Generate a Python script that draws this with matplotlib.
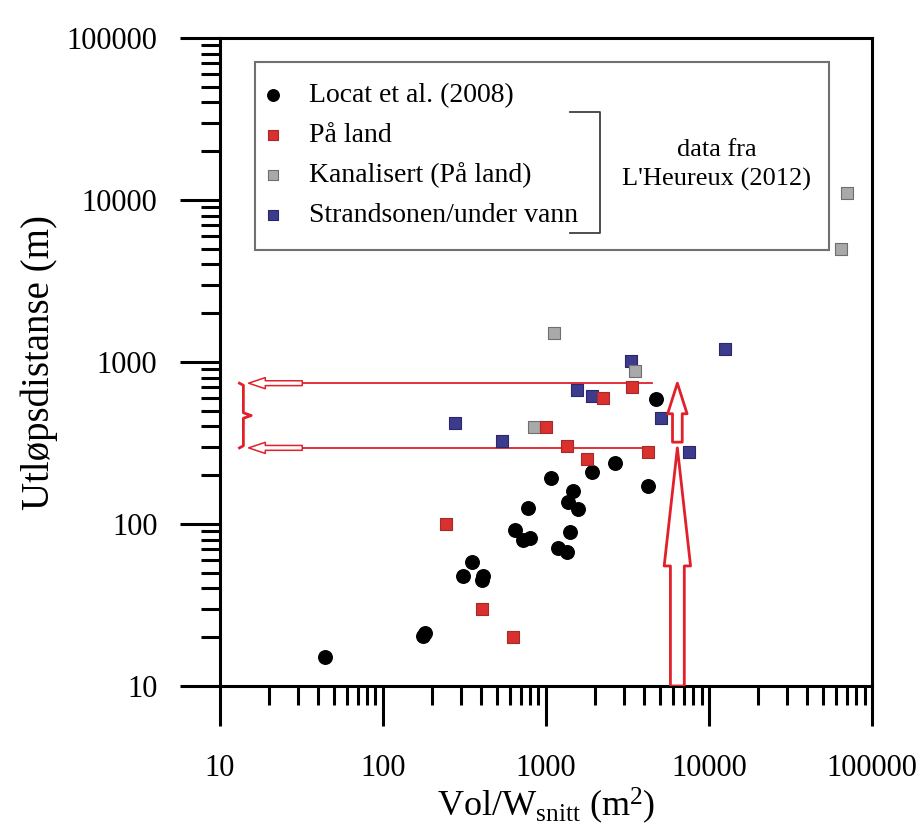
import matplotlib
matplotlib.use("Agg")
import matplotlib.pyplot as plt
from matplotlib.patches import Rectangle, FancyArrowPatch
from matplotlib.ticker import LogLocator, NullFormatter, FixedLocator, FixedFormatter
from matplotlib.transforms import blended_transform_factory

plt.rcParams['font.family'] = ['Liberation Serif', 'DejaVu Serif']
plt.rcParams['mathtext.default'] = 'regular'

# Locat et al. (2008)
locat_x = [44, 176, 181, 352, 310, 404, 412, 646, 722, 798, 776, 1074,
           1186, 1345, 1403, 1365, 1571, 1466, 1914, 2650, 4225, 4730]
locat_y = [15.1, 20.4, 21.3, 58, 47.7, 45, 48, 92, 79.6, 81.7, 126, 192,
           71, 67, 89, 137, 124, 160, 209, 238, 172, 591]

# L'Heureux (2012): on land
land_x = [244, 404, 628, 1000, 1345, 1786, 2240, 3372, 4225]
land_y = [100, 30, 20, 397, 303, 252, 600, 701, 278]

# L'Heureux (2012): channelised, on land
chan_x = [1119, 3515, 844, 64600, 70300]
chan_y = [1510, 880, 397, 4990, 11040]

# L'Heureux (2012): shoreline / underwater
shore_x = [277, 537, 1549, 1914, 3320, 5078, 7540, 12530]
shore_y = [420, 325, 671, 617, 1014, 451, 278, 1203]

ticks = [10, 100, 1000, 10000, 100000]
tick_labels = ["10", "100", "1000", "10000", "100000"]

# run-out range marked with arrows
range_low, range_high = 295, 740
arrow_x = 6400
line_x0, line_x1 = 32, 4500
tip_x = 15

RED = "#e2202a"

fig = plt.figure(figsize=(9.24, 8.32), dpi=100)
ax = fig.add_axes([0.238, 0.1755, 0.7057, 0.7788])
ax.set_xscale("log")
ax.set_yscale("log")
ax.set_xlim(10, 100000)
ax.set_ylim(10, 100000)

ax.scatter(locat_x, locat_y, s=95, marker="o", color="black", zorder=3,
           label="Locat et al. (2008)")
ax.scatter(land_x, land_y, s=75, marker="s", facecolor="#d8312e",
           edgecolor="#a52a2a", linewidth=0.8, zorder=6, label="På land")
ax.scatter(chan_x, chan_y, s=75, marker="s", facecolor="#a9a9a9",
           edgecolor="#6e6e6e", linewidth=0.8, zorder=5, label="Kanalisert (På land)")
ax.scatter(shore_x, shore_y, s=75, marker="s", facecolor="#3d3b8e",
           edgecolor="#2a2868", linewidth=0.8, zorder=4, label="Strandsonen/under vann")

# axes styling
for sp in ax.spines.values():
    sp.set_linewidth(2.2)
ax.xaxis.set_major_locator(FixedLocator(ticks))
ax.xaxis.set_major_formatter(FixedFormatter(tick_labels))
ax.yaxis.set_major_locator(FixedLocator(ticks))
ax.yaxis.set_major_formatter(FixedFormatter(tick_labels))
for axis in (ax.xaxis, ax.yaxis):
    axis.set_minor_locator(LogLocator(base=10, subs=range(2, 10)))
    axis.set_minor_formatter(NullFormatter())
ax.tick_params(which="major", direction="out", length=29, width=2.2, labelsize=22)
ax.tick_params(axis="x", which="major", pad=20)
ax.tick_params(axis="y", which="major", pad=16)
ax.tick_params(which="minor", direction="out", length=14, width=2.2)

ax.set_xlabel("Vol/W$_{snitt}$ (m$^{2}$)", fontsize=26, labelpad=2)
ax.set_ylabel("Utløpsdistanse (m)", fontsize=28, labelpad=6)

# legend box with bracket and source note
ax.add_patch(Rectangle((0.0537, 0.673), 0.880, 0.290, transform=ax.transAxes,
                       fill=False, edgecolor="#707070", linewidth=1.5, zorder=2))
leg = ax.legend(loc="upper left", bbox_to_anchor=(0.060, 0.931), frameon=False,
                fontsize=20, handlelength=1.0, handletextpad=0.8,
                labelspacing=0.52, borderpad=0, borderaxespad=0, markerscale=0.85)
ax.plot([0.537, 0.583, 0.583, 0.537], [0.886, 0.886, 0.699, 0.699],
        transform=ax.transAxes, color="#404040", linewidth=1.3, zorder=2)
ax.text(0.762, 0.827, "data fra", transform=ax.transAxes, ha="center",
        va="center", fontsize=19)
ax.text(0.762, 0.781, "L'Heureux (2012)", transform=ax.transAxes, ha="center",
        va="center", fontsize=19)

# horizontal range lines with small hollow arrows pointing to the y axis
for lvl in (range_high, range_low):
    ax.plot([line_x0, line_x1], [lvl, lvl], color=RED, linewidth=1.3, zorder=2)
    ax.add_patch(FancyArrowPatch((line_x0, lvl), (tip_x, lvl),
                                 arrowstyle="simple,head_length=12,head_width=8,tail_width=3.5",
                                 mutation_scale=1, shrinkA=0, shrinkB=0,
                                 facecolor="white", edgecolor=RED, linewidth=1.1, zorder=2))

# curly brace joining the two levels
bt = blended_transform_factory(ax.transAxes, ax.transData)
mid = (range_low * range_high) ** 0.5
bx = [0.030, 0.036, 0.036, 0.048, 0.036, 0.036, 0.030]
by = [range_high, range_high * 0.97, mid * 1.04, mid, mid / 1.04, range_low / 0.97, range_low]
ax.plot(bx, by, transform=bt, color=RED, linewidth=2.0, zorder=2)

# vertical hollow arrows up to each level
ax.add_patch(FancyArrowPatch((arrow_x, 10), (arrow_x, range_low),
                             arrowstyle="simple,head_length=85,head_width=19,tail_width=10",
                             mutation_scale=1, shrinkA=0, shrinkB=0,
                             facecolor="white", edgecolor=RED, linewidth=2.0, zorder=7))
ax.add_patch(FancyArrowPatch((arrow_x, 320), (arrow_x, range_high),
                             arrowstyle="simple,head_length=22,head_width=14,tail_width=7",
                             mutation_scale=1, shrinkA=0, shrinkB=0,
                             facecolor="white", edgecolor=RED, linewidth=2.0, zorder=7))

fig.savefig("out.png", dpi=100, facecolor="white")
